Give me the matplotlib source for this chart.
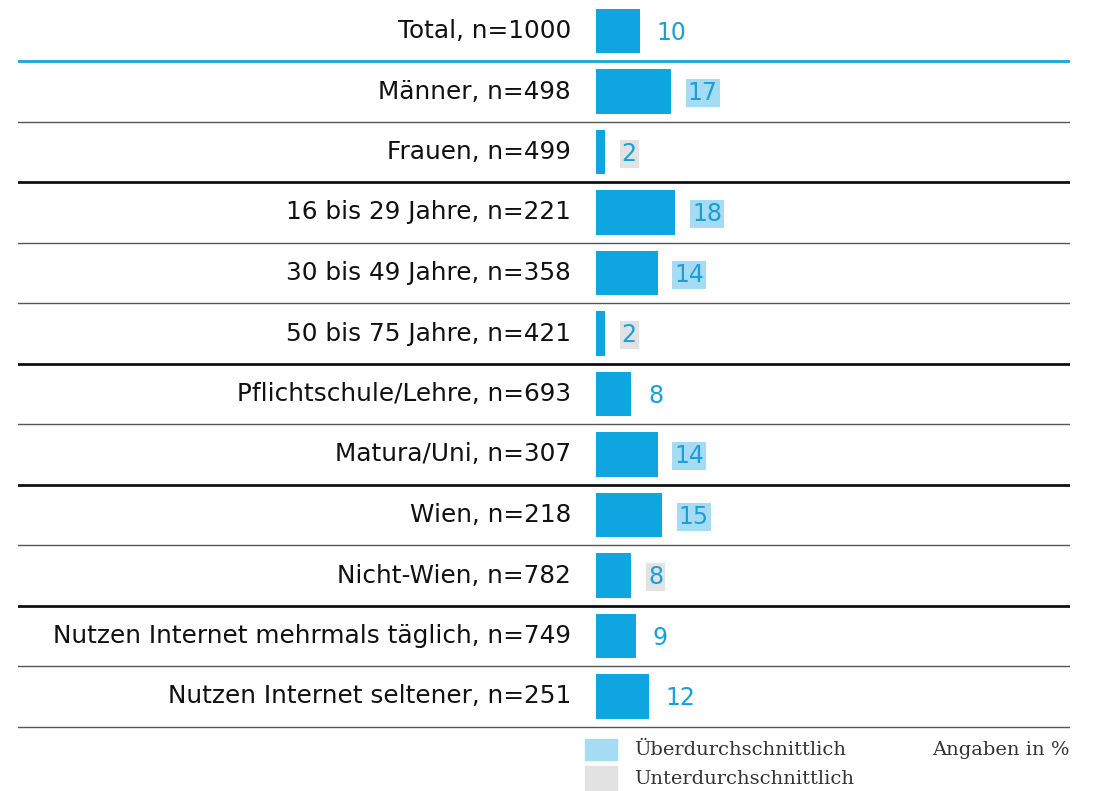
import matplotlib
matplotlib.use("Agg")
import matplotlib.pyplot as plt
from matplotlib.patches import Rectangle

categories = ["Total, n=1000", "Männer, n=498", "Frauen, n=499",
              "16 bis 29 Jahre, n=221", "30 bis 49 Jahre, n=358", "50 bis 75 Jahre, n=421",
              "Pflichtschule/Lehre, n=693", "Matura/Uni, n=307",
              "Wien, n=218", "Nicht-Wien, n=782",
              "Nutzen Internet mehrmals täglich, n=749", "Nutzen Internet seltener, n=251"]
values = [10, 17, 2, 18, 14, 2, 8, 14, 15, 8, 9, 12]
# "hi" = ueberdurchschnittlich, "lo" = unterdurchschnittlich, None = kein Hintergrund
marks = [None, "hi", "lo", "hi", "hi", "lo", None, "hi", "hi", "lo", None, None]
# Linie unter jeder Zeile
lines = ["blue", "gray", "black", "gray", "gray", "black", "gray", "black", "gray", "black", "gray", "gray"]

bar_col = "#0ea5e0"
txt_col = "#1a9fd9"
hi_col = "#a6dcf3"
lo_col = "#e2e2e2"
line_styles = {"blue": ("#1aa3dd", 2.0), "gray": ("#555555", 1.0), "black": ("#111111", 2.0)}

W, H = 1094, 791
fig = plt.figure(figsize=(W / 100, H / 100), dpi=100)
ax = fig.add_axes([18 / W, 0, 1052 / W, 1])
ax.set_xlim(-131.4, 107.7)
ax.set_ylim((H - 31) / 60.5, -31 / 60.5)
ax.axis("off")

y = list(range(len(categories)))
ax.barh(y, values, height=0.73, color=bar_col)

for i, (cat, v, m) in enumerate(zip(categories, values, marks)):
    ax.text(-5.7, i, cat, ha="right", va="center", fontsize=17.8, color="#111111")
    bb = None
    if m == "hi":
        bb = dict(facecolor=hi_col, edgecolor="none", pad=1.5)
    elif m == "lo":
        bb = dict(facecolor=lo_col, edgecolor="none", pad=1.5)
    ax.text(v + 3.8, i + 0.03, str(v), ha="left", va="center", fontsize=17,
            color=txt_col, bbox=bb)
    c, lw = line_styles[lines[i]]
    ax.axhline(i + 0.5, color=c, lw=lw)

# Legende
fig.patches.append(Rectangle((585 / W, 1 - 760 / H), 32 / W, 21 / H,
                             transform=fig.transFigure, color=hi_col))
fig.patches.append(Rectangle((585 / W, 1 - 790 / H), 32 / W, 24 / H,
                             transform=fig.transFigure, color=lo_col))
fig.text(634 / W, 1 - 750 / H, "Überdurchschnittlich", ha="left", va="center",
         fontsize=14, family="DejaVu Serif", color="#333333")
fig.text(634 / W, 1 - 779 / H, "Unterdurchschnittlich", ha="left", va="center",
         fontsize=14, family="DejaVu Serif", color="#333333")
fig.text(1070 / W, 1 - 750 / H, "Angaben in %", ha="right", va="center",
         fontsize=14, family="DejaVu Serif", color="#333333")

fig.savefig("out.png", dpi=100)
